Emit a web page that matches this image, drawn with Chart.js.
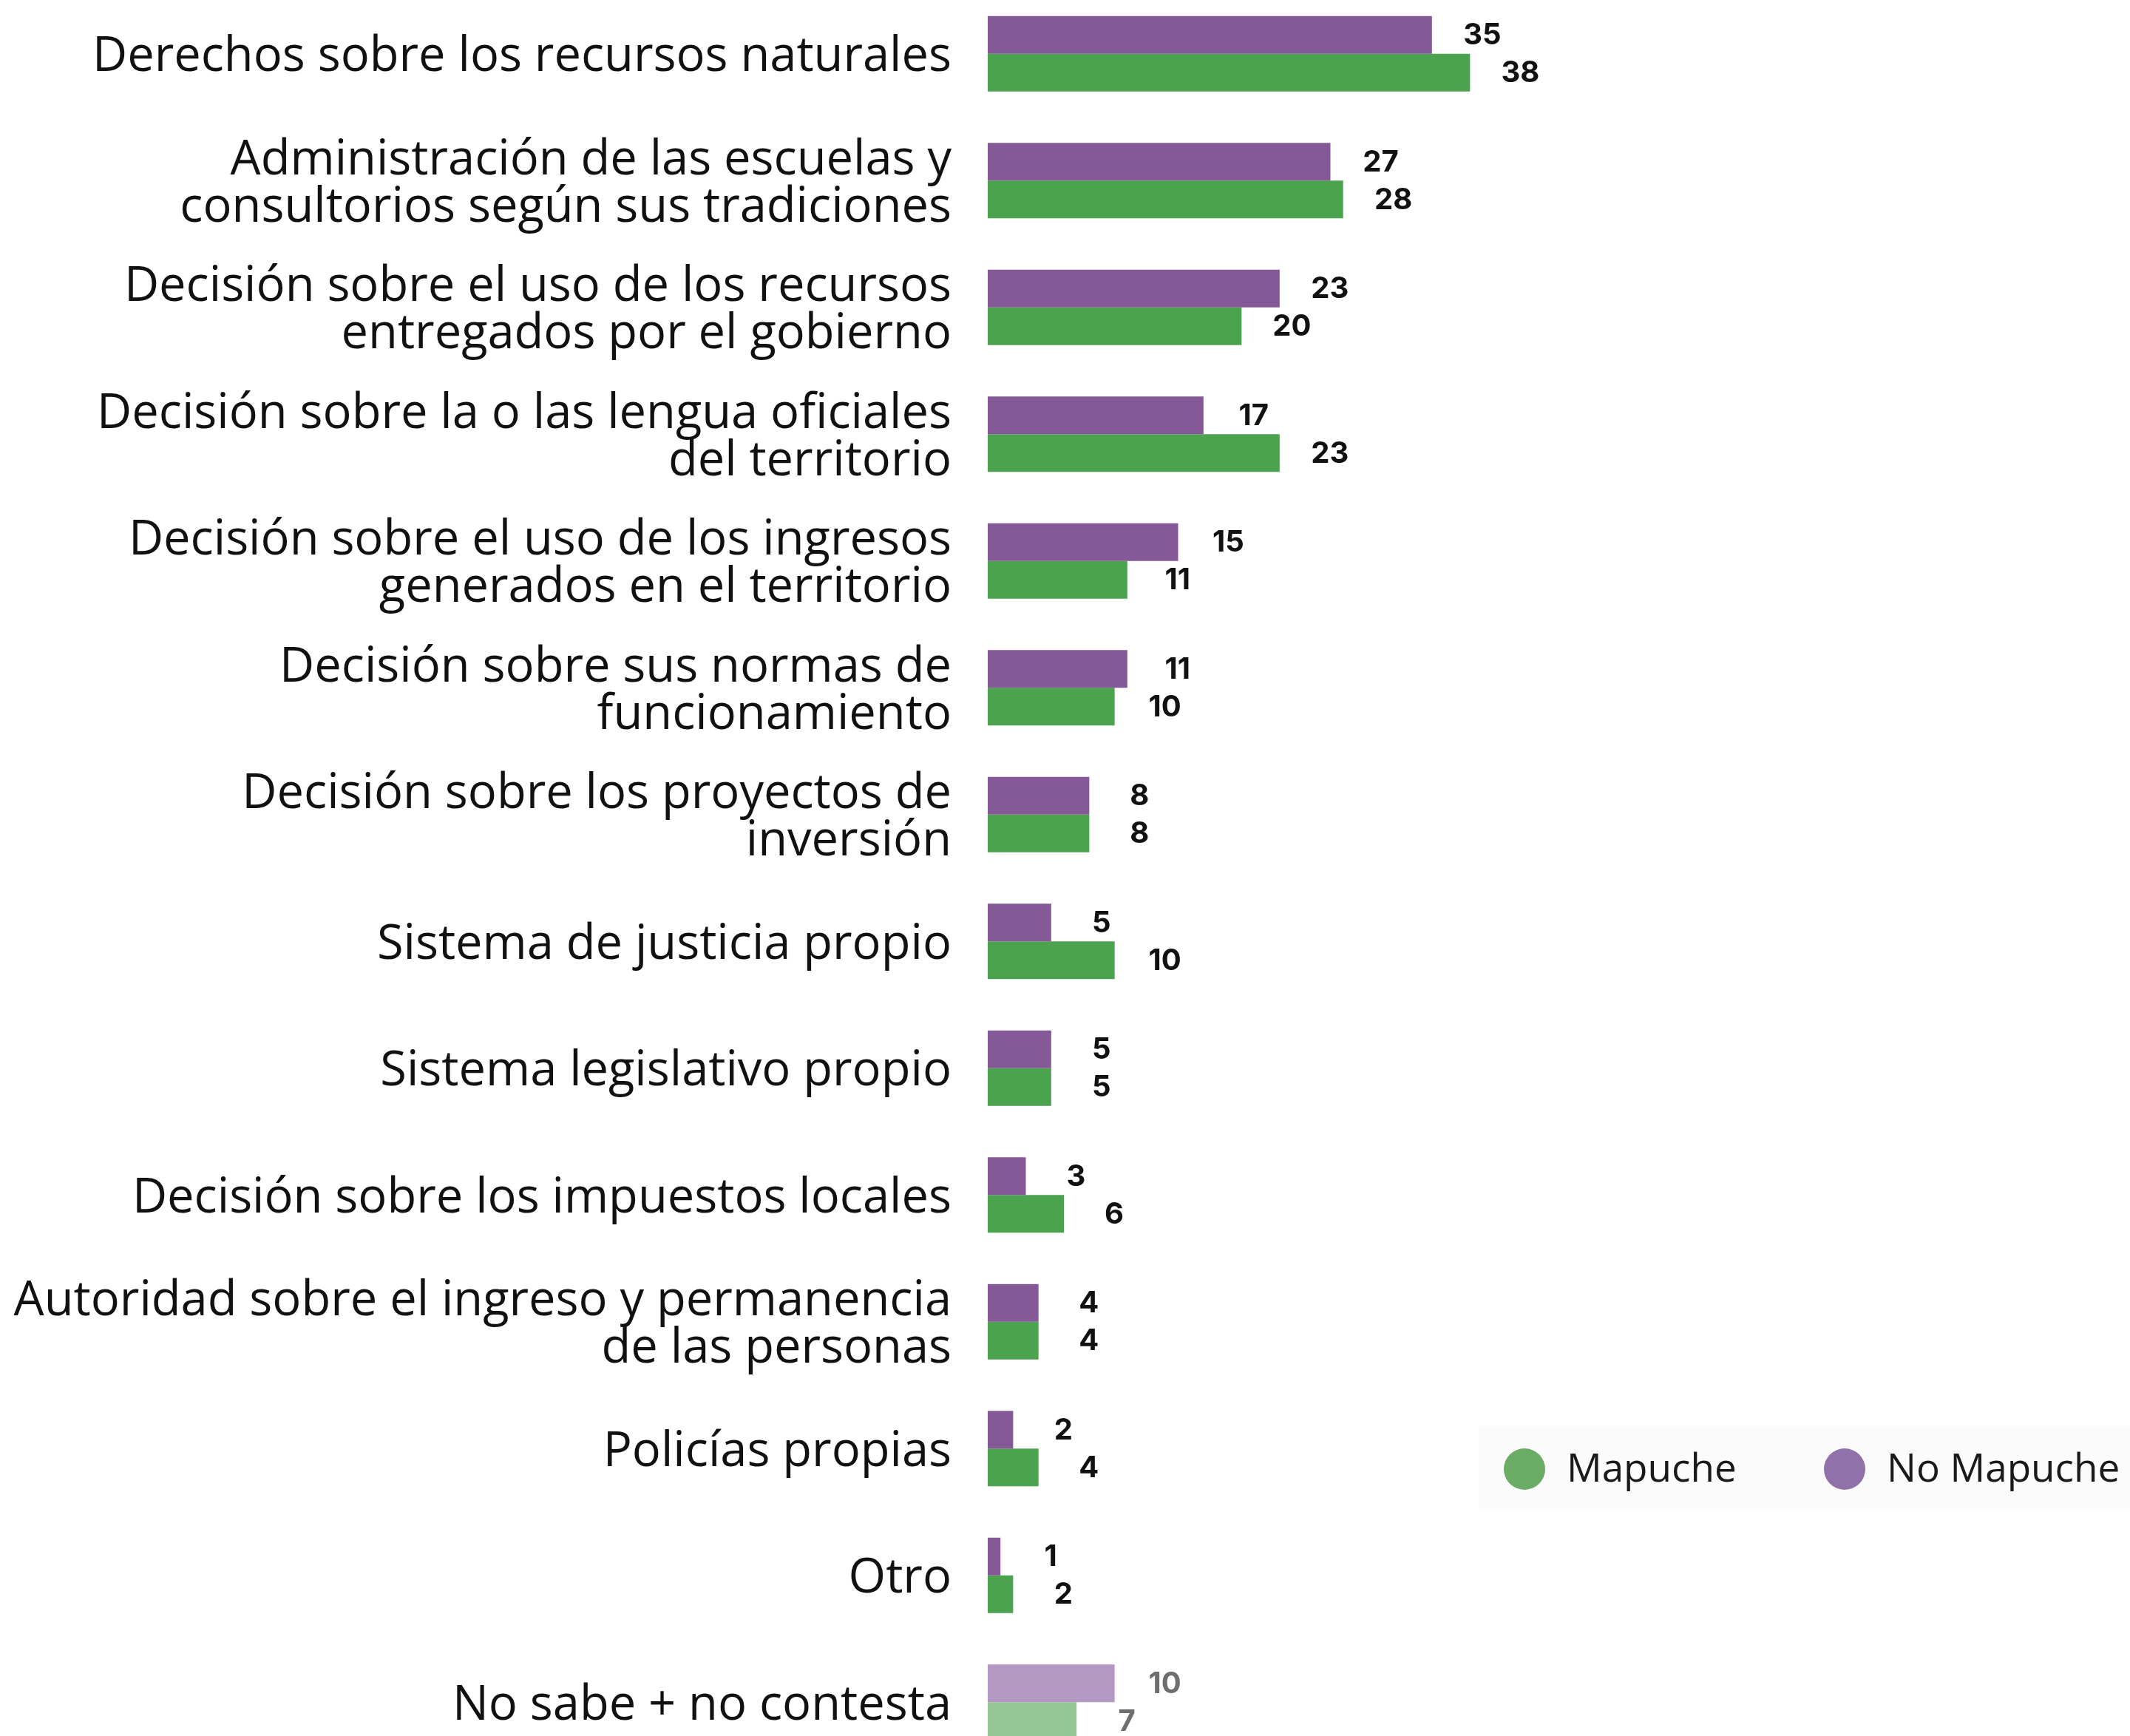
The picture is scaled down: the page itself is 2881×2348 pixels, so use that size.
<!DOCTYPE html>
<html>
<head>
<meta charset="utf-8">
<script src="https://cdn.jsdelivr.net/npm/chart.js@4"></script>
<style>
  html, body { margin: 0; padding: 0; background: #fff; overflow: hidden; }
  #wrap { position: relative; width: 2881px; height: 2348px; overflow: hidden; }
  #chart { position: absolute; left: 0; top: -13px; }
</style>
</head>
<body>
<div id="wrap"><canvas id="chart" width="2881" height="2401"></canvas></div>
<script>
const categories = [
  'Derechos sobre los recursos naturales',
  ['Administración de las escuelas y', 'consultorios según sus tradiciones'],
  ['Decisión sobre el uso de los recursos', 'entregados por el gobierno'],
  ['Decisión sobre la o las lengua oficiales', 'del territorio'],
  ['Decisión sobre el uso de los ingresos', 'generados en el territorio'],
  ['Decisión sobre sus normas de', 'funcionamiento'],
  ['Decisión sobre los proyectos de', 'inversión'],
  'Sistema de justicia propio',
  'Sistema legislativo propio',
  'Decisión sobre los impuestos locales',
  ['Autoridad sobre el ingreso y permanencia', 'de las personas'],
  'Policías propias',
  'Otro',
  'No sabe + no contesta'
];
const noMapuche = [35, 27, 23, 17, 15, 11, 8, 5, 5, 3, 4, 2, 1, 10];
const mapuche   = [38, 28, 20, 23, 11, 10, 8, 10, 5, 6, 4, 4, 2, 7];
const seriesNames = ['No Mapuche', 'Mapuche'];
const legendOrder = ['Mapuche', 'No Mapuche'];

// "no sabe" row is drawn in lighter tones
const fadedRow = categories.length - 1;
const isFaded = i => i === fadedRow;

const PURPLE = '#855997', PURPLE_LIGHT = '#b499c4', PURPLE_DOT = '#9171a9';
const GREEN = '#4ba350', GREEN_LIGHT = '#94c793', GREEN_DOT = '#6aab66';

const valueLabels = {
  id: 'valueLabels',
  afterDatasetsDraw(chart) {
    const ctx = chart.ctx;
    ctx.save();
    ctx.font = '700 40px Inter';
    ctx.textAlign = 'center';
    ctx.textBaseline = 'middle';
    chart.data.datasets.forEach((ds, di) => {
      chart.getDatasetMeta(di).data.forEach((bar, i) => {
        ctx.fillStyle = isFaded(i) ? '#6e6e6e' : '#111';
        ctx.fillText(ds.data[i], bar.x + 68, bar.y + 1);
      });
    });
    ctx.restore();
  }
};

// legend box sits at the lower right, inside the plot
const sideLegend = {
  id: 'sideLegend',
  afterDraw(chart) {
    const ctx = chart.ctx;
    const dots = { 'Mapuche': GREEN_DOT, 'No Mapuche': PURPLE_DOT };
    const xs = [2062, 2495];
    const y = 2000;
    ctx.save();
    ctx.fillStyle = '#fbfbfb';
    ctx.fillRect(2000, 1942, 881, 114);
    ctx.font = '53px "Open Sans"';
    ctx.textBaseline = 'middle';
    legendOrder.forEach((name, k) => {
      ctx.fillStyle = dots[name];
      ctx.beginPath();
      ctx.arc(xs[k], y, 28, 0, Math.PI * 2);
      ctx.fill();
      ctx.fillStyle = '#1a1a1a';
      ctx.fillText(name, xs[k] + 57, y + 2);
    });
    ctx.restore();
  }
};

new Chart(document.getElementById('chart'), {
  type: 'bar',
  data: {
    labels: categories,
    datasets: [
      {
        label: seriesNames[0],
        data: noMapuche,
        backgroundColor: noMapuche.map((v, i) => isFaded(i) ? PURPLE_LIGHT : PURPLE),
        borderWidth: 0
      },
      {
        label: seriesNames[1],
        data: mapuche,
        backgroundColor: mapuche.map((v, i) => isFaded(i) ? GREEN_LIGHT : GREEN),
        borderWidth: 0
      }
    ]
  },
  options: {
    indexAxis: 'y',
    responsive: false,
    animation: false,
    barPercentage: 1,
    categoryPercentage: 0.595,
    layout: { padding: 0 },
    scales: {
      x: { display: false, min: 0, max: 90 },
      y: {
        grid: { display: false, drawTicks: false },
        border: { display: false },
        ticks: {
          padding: 49,
          labelOffset: 5,
          color: '#111',
          font: { family: 'Open Sans', size: 65, lineHeight: 0.985 }
        },
        afterFit(scale) {
          scale.width = 1336;
          scale.paddingTop = 0;
          scale.paddingBottom = 0;
        }
      }
    },
    plugins: {
      legend: { display: false },
      tooltip: { enabled: false }
    }
  },
  plugins: [valueLabels, sideLegend]
});
</script>
</body>
</html>
